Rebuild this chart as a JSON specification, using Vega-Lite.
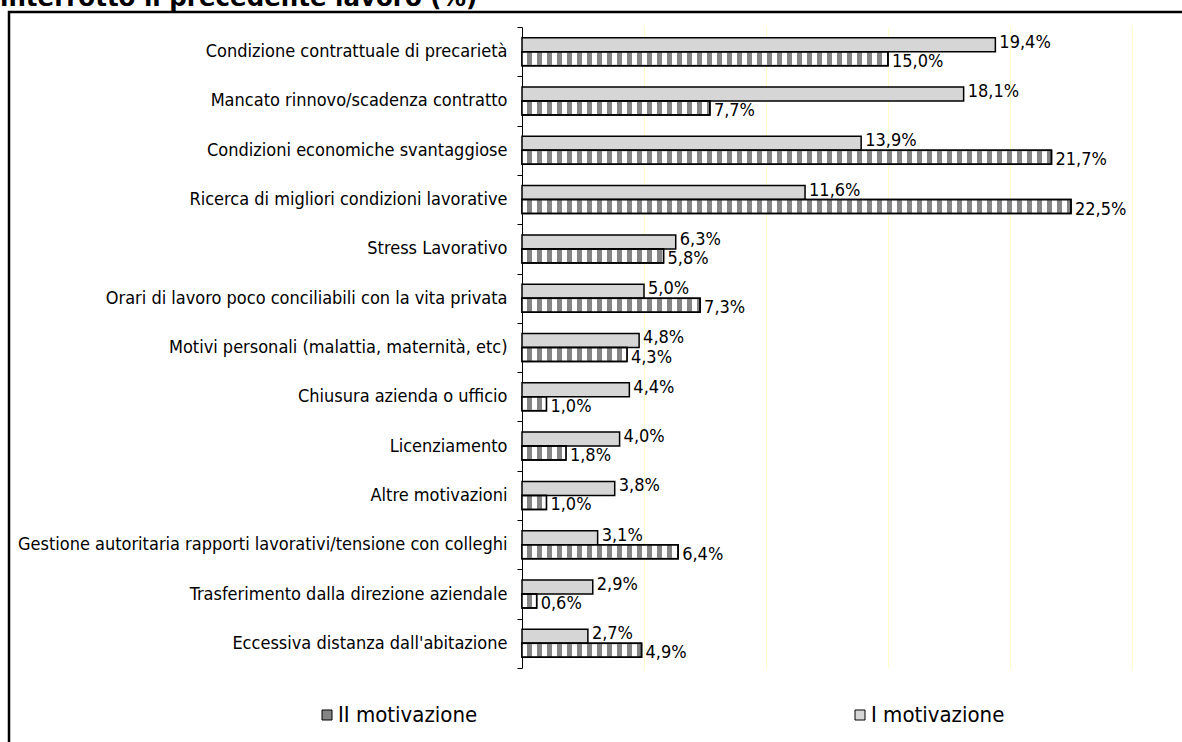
{
  "$schema": "https://vega.github.io/schema/vega-lite/v6.json",
  "width": 1181,
  "height": 740,
  "autosize": "none",
  "padding": {"left": 9, "top": 12, "right": -8, "bottom": -10},
  "background": "white",
  "title": {
    "text": "interrotto il precedente lavoro (%)",
    "anchor": "start",
    "frame": "group",
    "font": "DejaVu Sans",
    "fontWeight": "bold",
    "fontSize": 24.5,
    "color": "black",
    "baseline": "alphabetic",
    "dx": -9,
    "dy": 27,
    "offset": 0
  },
  "config": {
    "view": {"stroke": "black", "strokeWidth": 2.5}
  },
  "data": {
    "values": [
      {"cat": "Condizione contrattuale di precarietà", "series": "I motivazione", "value": 19.4},
      {"cat": "Condizione contrattuale di precarietà", "series": "II motivazione", "value": 15.0},
      {"cat": "Mancato rinnovo/scadenza contratto", "series": "I motivazione", "value": 18.1},
      {"cat": "Mancato rinnovo/scadenza contratto", "series": "II motivazione", "value": 7.7},
      {"cat": "Condizioni economiche svantaggiose", "series": "I motivazione", "value": 13.9},
      {"cat": "Condizioni economiche svantaggiose", "series": "II motivazione", "value": 21.7},
      {"cat": "Ricerca di migliori condizioni lavorative", "series": "I motivazione", "value": 11.6},
      {"cat": "Ricerca di migliori condizioni lavorative", "series": "II motivazione", "value": 22.5},
      {"cat": "Stress Lavorativo", "series": "I motivazione", "value": 6.3},
      {"cat": "Stress Lavorativo", "series": "II motivazione", "value": 5.8},
      {"cat": "Orari di lavoro poco conciliabili con la vita privata", "series": "I motivazione", "value": 5.0},
      {"cat": "Orari di lavoro poco conciliabili con la vita privata", "series": "II motivazione", "value": 7.3},
      {"cat": "Motivi personali (malattia, maternità, etc)", "series": "I motivazione", "value": 4.8},
      {"cat": "Motivi personali (malattia, maternità, etc)", "series": "II motivazione", "value": 4.3},
      {"cat": "Chiusura azienda o ufficio", "series": "I motivazione", "value": 4.4},
      {"cat": "Chiusura azienda o ufficio", "series": "II motivazione", "value": 1.0},
      {"cat": "Licenziamento", "series": "I motivazione", "value": 4.0},
      {"cat": "Licenziamento", "series": "II motivazione", "value": 1.8},
      {"cat": "Altre motivazioni ", "series": "I motivazione", "value": 3.8},
      {"cat": "Altre motivazioni ", "series": "II motivazione", "value": 1.0},
      {"cat": "Gestione autoritaria rapporti lavorativi/tensione con colleghi", "series": "I motivazione", "value": 3.1},
      {"cat": "Gestione autoritaria rapporti lavorativi/tensione con colleghi", "series": "II motivazione", "value": 6.4},
      {"cat": "Trasferimento dalla direzione aziendale", "series": "I motivazione", "value": 2.9},
      {"cat": "Trasferimento dalla direzione aziendale", "series": "II motivazione", "value": 0.6},
      {"cat": "Eccessiva distanza dall'abitazione", "series": "I motivazione", "value": 2.7},
      {"cat": "Eccessiva distanza dall'abitazione", "series": "II motivazione", "value": 4.9}
    ]
  },
  "transform": [
    {"calculate": "replace(format(datum.value, '.1f'), '.', ',') + '%'", "as": "label"}
  ],
  "encoding": {
    "y": {
      "field": "cat",
      "type": "nominal",
      "sort": null,
      "scale": {"range": [15, 656], "paddingInner": 0, "paddingOuter": 0},
      "axis": {
        "orient": "left",
        "offset": -513,
        "title": null,
        "grid": false,
        "domainColor": "black",
        "domainWidth": 1,
        "tickColor": "black",
        "tickWidth": 1,
        "tickSize": 5,
        "tickBand": "extent",
        "labelFont": "DejaVu Sans Condensed",
        "labelFontSize": 18,
        "labelColor": "black",
        "labelPadding": 10,
        "labelLimit": 0
      }
    },
    "yOffset": {
      "field": "series",
      "type": "nominal",
      "sort": ["I motivazione", "II motivazione"],
      "scale": {"paddingInner": 0, "paddingOuter": 0.76}
    },
    "x": {
      "field": "value",
      "type": "quantitative",
      "scale": {"domain": [0, 25], "range": [513, 1123], "nice": false, "zero": true},
      "axis": {
        "orient": "top",
        "values": [5, 10, 15, 20, 25],
        "grid": true,
        "gridColor": "#ffffc8",
        "gridWidth": 1,
        "domain": false,
        "ticks": false,
        "labels": false,
        "title": null
      }
    }
  },
  "layer": [
    {
      "mark": {"type": "bar", "stroke": "black", "strokeWidth": 1.5},
      "encoding": {
        "color": {
          "field": "series",
          "type": "nominal",
          "scale": {"domain": ["II motivazione", "I motivazione"], "range": ["#858585", "#d6d6d6"]},
          "legend": {
            "orient": "none",
            "legendX": 307,
            "legendY": 692,
            "direction": "horizontal",
            "title": null,
            "symbolType": "square",
            "symbolSize": 100,
            "symbolStrokeColor": "black",
            "symbolStrokeWidth": 1,
            "labelFont": "DejaVu Sans Condensed",
            "labelFontSize": 22,
            "labelColor": "black",
            "labelOffset": 0,
            "columnPadding": 371
          }
        }
      }
    },
    {
      "transform": [{"filter": "datum.series === 'II motivazione'"}],
      "mark": {"type": "rule", "stroke": "white", "strokeWidth": 12, "strokeDash": [5, 5]},
      "encoding": {
        "x": {"datum": 0},
        "x2": {"field": "value"}
      }
    },
    {
      "transform": [{"filter": "datum.series === 'II motivazione'"}],
      "mark": {"type": "bar", "fill": "transparent", "stroke": "black", "strokeWidth": 1.5}
    },
    {
      "transform": [{"filter": "datum.series === 'I motivazione'"}],
      "mark": {"type": "text", "align": "left", "baseline": "middle", "dx": 4, "dy": -2, "font": "DejaVu Sans Condensed", "fontSize": 18, "color": "black"},
      "encoding": {"text": {"field": "label"}}
    },
    {
      "transform": [{"filter": "datum.series === 'II motivazione'"}],
      "mark": {"type": "text", "align": "left", "baseline": "middle", "dx": 4, "dy": 3, "font": "DejaVu Sans Condensed", "fontSize": 18, "color": "black"},
      "encoding": {"text": {"field": "label"}}
    }
  ]
}
